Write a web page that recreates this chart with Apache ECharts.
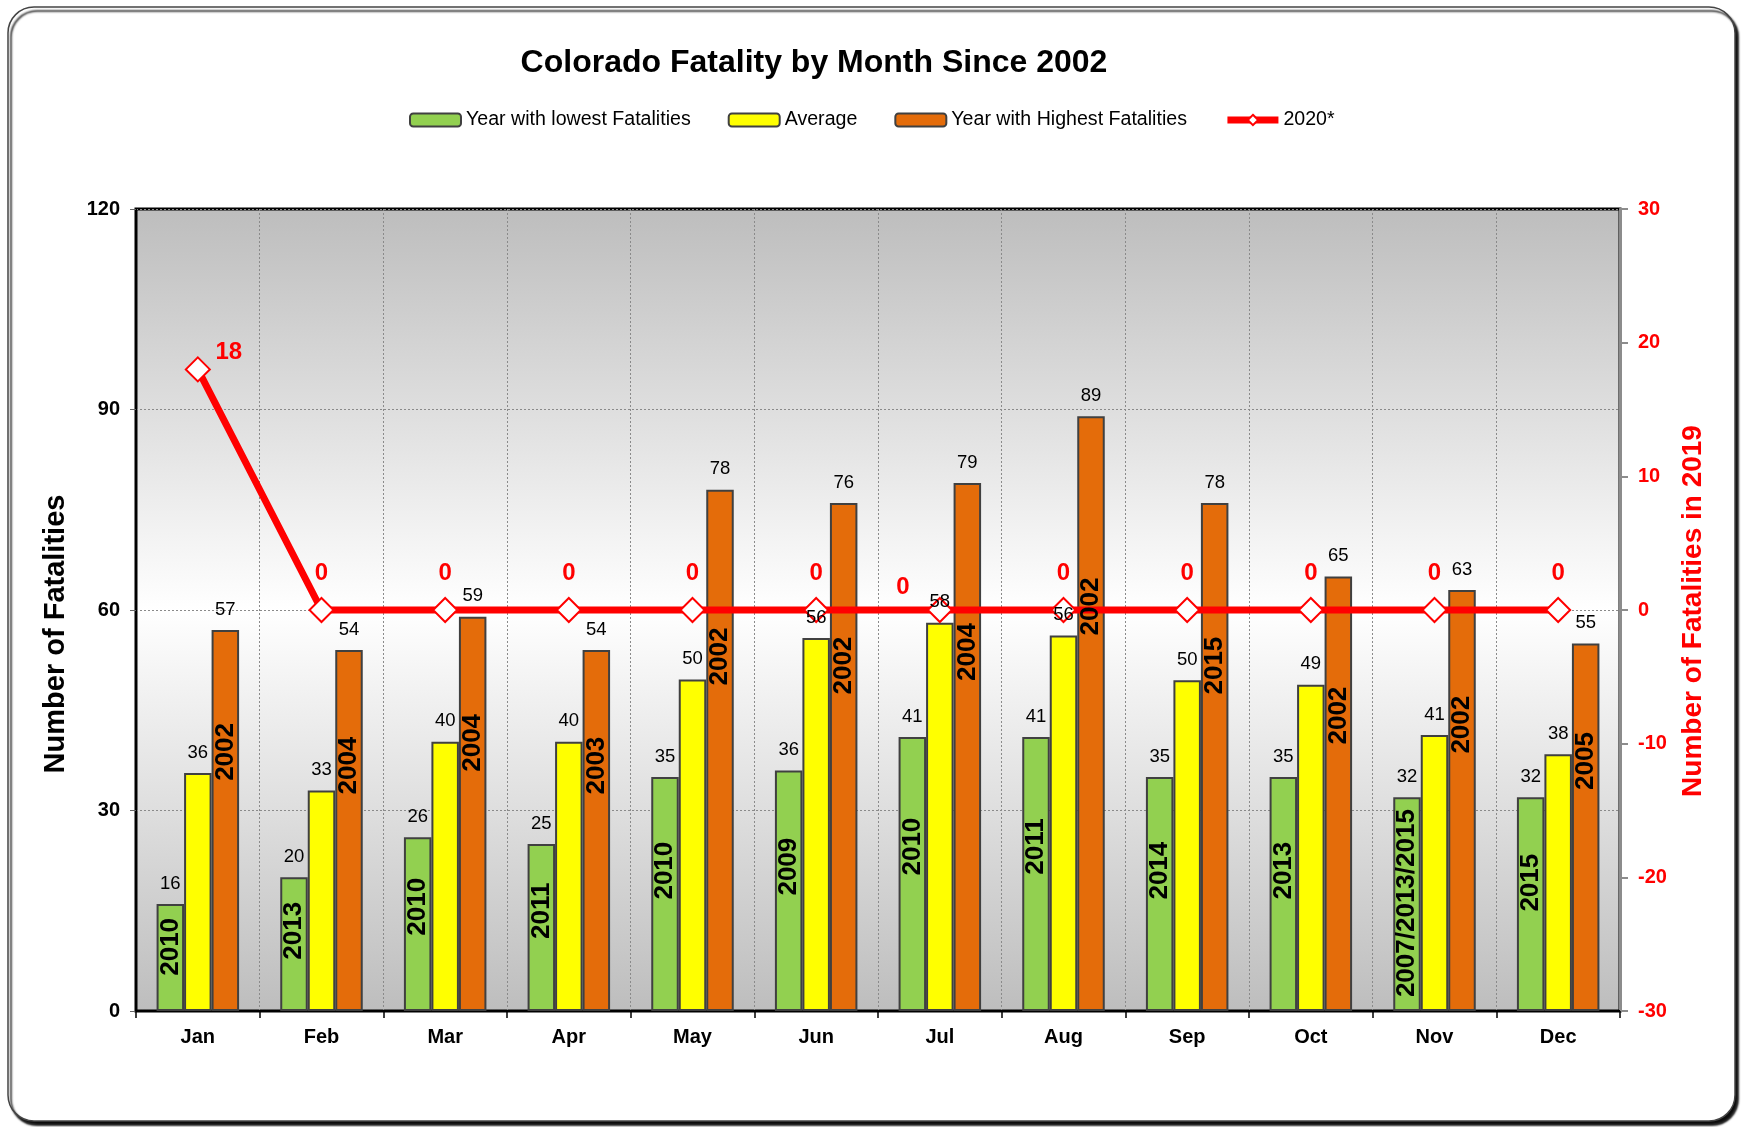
<!DOCTYPE html>
<html><head><meta charset="utf-8">
<script src="https://cdn.jsdelivr.net/npm/echarts@6/dist/echarts.min.js"></script>
<style>html,body{margin:0;padding:0;background:#fff}#c{width:1741px;height:1127px}</style>
</head><body><div id="c"></div><script>
// ---- data ----
const months = ['Jan','Feb','Mar','Apr','May','Jun','Jul','Aug','Sep','Oct','Nov','Dec'];
const lowValues = [16,20,26,25,35,36,41,41,35,35,32,32];
const lowYears = ['2010','2013','2010','2011','2010','2009','2010','2011','2014','2013','2007/2013/2015','2015'];
const avgValues = [35.6,33.0,40.3,40.3,49.6,55.8,58.1,56.2,49.5,48.8,41.3,38.4];
const highValues = [57,54,59,54,78,76,79,89,76,65,63,55];
const highLabels = ['57','54','59','54','78','76','79','89','78','65','63','55'];
const highYears = ['2002','2004','2004','2003','2002','2002','2004','2002','2015','2002','2002','2005'];
const values2020 = [18,0,0,0,0,0,0,0,0,0,0,0];
const leftTicks = [0,120,30];   // min, max, interval
const rightTicks = [-30,30,10];

// ---- style ----
const FONT = '"Liberation Sans", Arial, sans-serif';
const YEAR_FONT = 'bold 26px ' + FONT;
const BAR_W = 27.5;
const GREEN = '#92D050', YELLOW = '#FFFF00', ORANGE = '#E46C0A', BORDER = '#404040';

const measureCtx = document.createElement('canvas').getContext('2d');
function textLen(t, font) { measureCtx.font = font; return measureCtx.measureText(t).width; }

const chart = echarts.init(document.getElementById('c'), null, {renderer:'canvas'});

function labelSeries(key, values, texts, years, slot, ratio) {
  return {
    type:'custom', name:key, z:6, silent:true,
    coordinateSystem:'cartesian2d', xAxisIndex:0, yAxisIndex:0,
    data: values.map((v,i)=>[i,v]), encode:{x:0,y:1}, clip:false,
    renderItem(params, api) {
      const i = params.dataIndex, v = values[i];
      const base = api.coord([i,0]), top = api.coord([i,v]);
      const x = base[0] + slot*BAR_W;
      const kids = [{
        type:'text', x:x, y:top[1]-11,
        style:{text:texts[i], fill:'#000', font:'18.5px '+FONT, align:'center', verticalAlign:'bottom'}
      }];
      if (years) {
        const p = api.coord([i, v*ratio]);
        const half = textLen(years[i], YEAR_FONT) / 2;
        const cy = Math.max(p[1], top[1] + half + 12);
        kids.push({type:'text', x:x, y:cy, rotation:Math.PI/2,
          style:{text:years[i], fill:'#000', font:YEAR_FONT, align:'center', verticalAlign:'middle'}});
      }
      return {type:'group', children:kids};
    }
  };
}

const lineLabelOverrides = {
  0: {position:'top', distance:12, offset:[31,20]},
  6: {position:'top', distance:12, offset:[-37,14]}
};

const option = {
  backgroundColor:'#fff',
  animation:false,
  graphic:[
    {type:'rect', z:-100, shape:{x:8,y:7,width:1727,height:1114,r:26},
     style:{fill:'#fff', stroke:'#444', lineWidth:1.5, shadowColor:'rgba(0,0,0,0.95)', shadowOffsetX:3, shadowOffsetY:4, shadowBlur:2}},
    {type:'text', x:814, y:63, z:10,
     style:{text:'Colorado Fatality by Month Since 2002', font:'bold 32px '+FONT, fill:'#000', align:'center', verticalAlign:'middle'}},
    {type:'text', x:56, y:634, rotation:Math.PI/2, z:10,
     style:{text:'Number of Fatalities', font:'bold 29px '+FONT, fill:'#000', align:'center', verticalAlign:'middle'}},
    {type:'text', x:1693, y:611, rotation:Math.PI/2, z:10,
     style:{text:'Number of Fatalities in 2019', font:'bold 28px '+FONT, fill:'#FF0000', align:'center', verticalAlign:'middle'}}
  ],
  legend:{
    data:['Year with lowest Fatalities','Average','Year with Highest Fatalities',
      {name:'2020*', lineStyle:{width:7, color:'#FF0000'}}],
    left:404, top:105, itemWidth:51, itemHeight:13, itemGap:37,
    textStyle:{fontFamily:FONT, fontSize:19.6, color:'#000'},
    selectedMode:false
  },
  grid:{left:136, right:121, top:209, bottom:116, show:true, borderColor:'#000', borderWidth:3,
    backgroundColor:new echarts.graphic.LinearGradient(0,0,0,1,[
      {offset:0,color:'#bdbdbd'},{offset:0.5,color:'#ffffff'},{offset:1,color:'#bdbdbd'}])},
  xAxis:{
    type:'category', data:months, boundaryGap:true,
    axisLine:{show:true, lineStyle:{color:'#000', width:2}},
    axisTick:{show:true, interval:0, length:7, lineStyle:{color:'#000', width:1.5}},
    axisLabel:{interval:0, margin:16, color:'#000', fontWeight:'bold', fontSize:20, fontFamily:FONT},
    splitLine:{show:true, interval:0, lineStyle:{color:'#8a8a8a', type:[2,2], width:1}}
  },
  yAxis:[
    {type:'value', min:leftTicks[0], max:leftTicks[1], interval:leftTicks[2], position:'left',
     axisLine:{show:true, lineStyle:{color:'#000', width:2}},
     axisTick:{show:true, length:6, lineStyle:{color:'#666'}},
     axisLabel:{margin:16, color:'#000', fontWeight:'bold', fontSize:20, fontFamily:FONT},
     splitLine:{show:true, lineStyle:{color:'#8a8a8a', type:[2,2], width:1}}},
    {type:'value', min:rightTicks[0], max:rightTicks[1], interval:rightTicks[2], position:'right',
     axisLine:{show:true, lineStyle:{color:'#8c8c8c', width:3}},
     axisTick:{show:true, length:8, lineStyle:{color:'#8c8c8c', width:2}},
     axisLabel:{margin:18, color:'#FF0000', fontWeight:'bold', fontSize:20, fontFamily:FONT},
     splitLine:{show:false}}
  ],
  series:[
    {name:'Year with lowest Fatalities', type:'bar', z:2, data:lowValues, barWidth:BAR_W, barGap:'0%',
     itemStyle:{color:GREEN, borderColor:BORDER, borderWidth:2}, emphasis:{disabled:true}},
    {name:'Average', type:'bar', z:2, data:avgValues, barWidth:BAR_W, barGap:'0%',
     itemStyle:{color:YELLOW, borderColor:BORDER, borderWidth:2}, emphasis:{disabled:true}},
    {name:'Year with Highest Fatalities', type:'bar', z:2, data:highValues, barWidth:BAR_W, barGap:'0%',
     itemStyle:{color:ORANGE, borderColor:BORDER, borderWidth:2}, emphasis:{disabled:true}},
    {name:'2020*', type:'line', yAxisIndex:1, z:4,
     data: values2020.map((v,i)=> lineLabelOverrides[i] ? {value:v, label:lineLabelOverrides[i]} : v),
     symbol:'diamond', symbolSize:24, showAllSymbol:true,
     lineStyle:{color:'#FF0000', width:7}, itemStyle:{color:'#fff', borderColor:'#FF0000', borderWidth:2},
     label:{show:true, position:'top', distance:12, color:'#FF0000', fontWeight:'bold', fontSize:24, fontFamily:FONT},
     emphasis:{disabled:true}},
    labelSeries('lowLabels', lowValues, lowValues.map(String), lowYears, -1, 0.6),
    labelSeries('avgLabels', avgValues, avgValues.map(v=>String(Math.round(v))), null, 0, 0),
    labelSeries('highLabels', highValues, highLabels, highYears, 1, 0.68)
  ]
};
chart.setOption(option);
</script></body></html>
